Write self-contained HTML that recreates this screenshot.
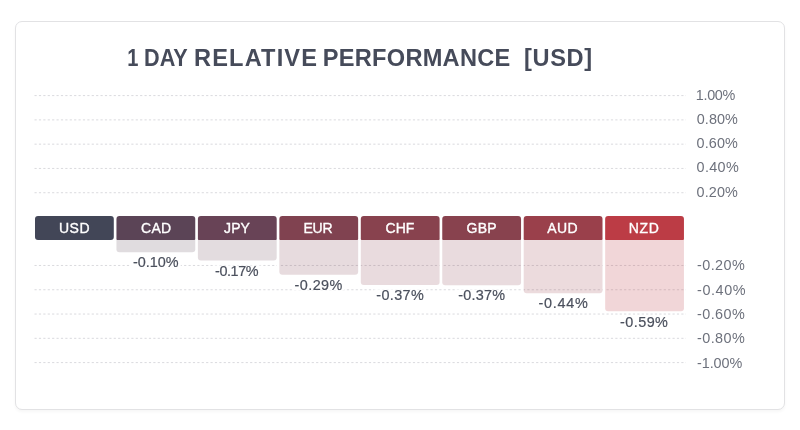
<!DOCTYPE html>
<html><head><meta charset="utf-8"><title>1 Day Relative Performance [USD]</title>
<style>
html,body{margin:0;padding:0;background:#fff;}
body{width:800px;height:430px;overflow:hidden;position:relative;font-family:"Liberation Sans",sans-serif;}
.card{position:absolute;left:15px;top:21px;width:768px;height:387px;border:1px solid #e2e2e4;border-radius:7px;box-shadow:0 2px 3px rgba(0,0,0,0.035);background:#fff;box-sizing:content-box;}
svg{position:absolute;left:0;top:0;}
.title{font-weight:bold;font-size:23.6px;fill:#464b5a;}
.ax{font-size:14.4px;fill:#6d717c;}
.val{font-size:14.4px;fill:#4b505d;stroke:#4b505d;stroke-width:0.2px;}
.lab{font-size:14px;fill:#fff;stroke:#fff;stroke-width:0.35px;}
</style></head><body>
<div class="card"></div>
<svg width="800" height="430" viewBox="0 0 800 430">
<text class="title" x="127.18" y="65.9" textLength="11.15" lengthAdjust="spacingAndGlyphs">1</text>
<text class="title" x="144.08" y="65.9" textLength="43.68" lengthAdjust="spacingAndGlyphs">DAY</text>
<text class="title" x="194.00" y="65.9" style="letter-spacing:1.15px">RELATIVE</text>
<text class="title" x="322.75" y="65.9" style="letter-spacing:0.27px">PERFORMANCE</text>
<text class="title" x="524.00" y="65.9" style="letter-spacing:0.64px">[USD]</text>
<g stroke="#dadade" stroke-width="1" stroke-dasharray="2.2 2.2" fill="none">
<line x1="34.5" x2="686" y1="95.60" y2="95.60"/>
<line x1="34.5" x2="686" y1="119.88" y2="119.88"/>
<line x1="34.5" x2="686" y1="144.16" y2="144.16"/>
<line x1="34.5" x2="686" y1="168.44" y2="168.44"/>
<line x1="34.5" x2="686" y1="192.72" y2="192.72"/>
<line x1="34.5" x2="686" y1="265.48" y2="265.48"/>
<line x1="34.5" x2="686" y1="289.76" y2="289.76"/>
<line x1="34.5" x2="686" y1="314.04" y2="314.04"/>
<line x1="34.5" x2="686" y1="338.32" y2="338.32"/>
<line x1="34.5" x2="686" y1="362.60" y2="362.60"/>
</g>
<text class="ax" x="695.75" y="99.60" style="letter-spacing:-0.31px">1.00%</text>
<text class="ax" x="696.75" y="123.88" style="letter-spacing:0.09px">0.80%</text>
<text class="ax" x="696.60" y="148.16" style="letter-spacing:0.10px">0.60%</text>
<text class="ax" x="696.60" y="172.44" style="letter-spacing:0.32px">0.40%</text>
<text class="ax" x="696.60" y="196.72" style="letter-spacing:0.10px">0.20%</text>
<text class="ax" x="697.00" y="270.38" style="letter-spacing:0.42px">-0.20%</text>
<text class="ax" x="697.00" y="294.66" style="letter-spacing:0.60px">-0.40%</text>
<text class="ax" x="697.00" y="318.94" style="letter-spacing:0.44px">-0.60%</text>
<text class="ax" x="697.00" y="343.22" style="letter-spacing:0.44px">-0.80%</text>
<text class="ax" x="697.00" y="367.50" style="letter-spacing:-0.08px">-1.00%</text>
<rect x="113.80" y="240.10" width="2.65" height="12.95" fill="#fff"/>
<rect x="195.25" y="240.10" width="2.65" height="21.30" fill="#fff"/>
<rect x="276.70" y="240.10" width="2.65" height="35.45" fill="#fff"/>
<rect x="358.15" y="240.10" width="2.65" height="45.70" fill="#fff"/>
<rect x="439.60" y="240.10" width="2.65" height="45.95" fill="#fff"/>
<rect x="521.05" y="240.10" width="2.65" height="54.00" fill="#fff"/>
<rect x="602.50" y="240.10" width="2.65" height="71.95" fill="#fff"/>
<rect x="683.95" y="240.10" width="1.3" height="71.95" fill="#fff"/>
<rect x="35.00" y="216.10" width="78.80" height="24.00" rx="3" ry="3" fill="#424657"/>
<text class="lab" x="59.00" y="233.20" style="letter-spacing:0.48px">USD</text>
<path d="M116.45 238.60 H195.25 V249.25 Q195.25 252.25 192.25 252.25 H119.45 Q116.45 252.25 116.45 249.25 Z" fill="#5b4456" fill-opacity="0.19"/>
<rect x="131.10" y="256.50" width="49.65" height="10.4" fill="#fff"/>
<text class="val" x="133.10" y="266.90" style="letter-spacing:-0.03px">-0.10%</text>
<path d="M116.45 219.10 Q116.45 216.10 119.45 216.10 H192.25 Q195.25 216.10 195.25 219.10 V239.10 Q195.25 240.10 194.25 240.10 H117.45 Q116.45 240.10 116.45 239.10 Z" fill="#5b4456"/>
<text class="lab" x="141.00" y="233.20" style="letter-spacing:0.28px">CAD</text>
<path d="M197.90 238.60 H276.70 V257.60 Q276.70 260.60 273.70 260.60 H200.90 Q197.90 260.60 197.90 257.60 Z" fill="#684356" fill-opacity="0.19"/>
<rect x="213.00" y="265.50" width="47.75" height="10.4" fill="#fff"/>
<text class="val" x="215.00" y="275.90" style="letter-spacing:-0.41px">-0.17%</text>
<path d="M197.90 219.10 Q197.90 216.10 200.90 216.10 H273.70 Q276.70 216.10 276.70 219.10 V239.10 Q276.70 240.10 275.70 240.10 H198.90 Q197.90 240.10 197.90 239.10 Z" fill="#684356"/>
<text class="lab" x="224.10" y="233.20" style="letter-spacing:0.08px">JPY</text>
<path d="M279.35 238.60 H358.15 V271.75 Q358.15 274.75 355.15 274.75 H282.35 Q279.35 274.75 279.35 271.75 Z" fill="#804250" fill-opacity="0.19"/>
<rect x="292.60" y="279.60" width="51.90" height="10.4" fill="#fff"/>
<text class="val" x="294.60" y="290.00" style="letter-spacing:0.42px">-0.29%</text>
<path d="M279.35 219.10 Q279.35 216.10 282.35 216.10 H355.15 Q358.15 216.10 358.15 219.10 V239.10 Q358.15 240.10 357.15 240.10 H280.35 Q279.35 240.10 279.35 239.10 Z" fill="#804250"/>
<text class="lab" x="303.40" y="233.20" style="letter-spacing:-0.17px">EUR</text>
<path d="M360.80 238.60 H439.60 V282.00 Q439.60 285.00 436.60 285.00 H363.80 Q360.80 285.00 360.80 282.00 Z" fill="#88424e" fill-opacity="0.19"/>
<rect x="374.25" y="289.30" width="51.75" height="10.4" fill="#fff"/>
<text class="val" x="376.25" y="299.70" style="letter-spacing:0.39px">-0.37%</text>
<path d="M360.80 219.10 Q360.80 216.10 363.80 216.10 H436.60 Q439.60 216.10 439.60 219.10 V239.10 Q439.60 240.10 438.60 240.10 H361.80 Q360.80 240.10 360.80 239.10 Z" fill="#88424e"/>
<text class="lab" x="385.60" y="233.20" style="letter-spacing:-0.04px">CHF</text>
<path d="M442.25 238.60 H521.05 V282.25 Q521.05 285.25 518.05 285.25 H445.25 Q442.25 285.25 442.25 282.25 Z" fill="#88424e" fill-opacity="0.19"/>
<rect x="456.20" y="289.50" width="51.00" height="10.4" fill="#fff"/>
<text class="val" x="458.20" y="299.90" style="letter-spacing:0.24px">-0.37%</text>
<path d="M442.25 219.10 Q442.25 216.10 445.25 216.10 H518.05 Q521.05 216.10 521.05 219.10 V239.10 Q521.05 240.10 520.05 240.10 H443.25 Q442.25 240.10 442.25 239.10 Z" fill="#88424e"/>
<text class="lab" x="466.60" y="233.20" style="letter-spacing:0.21px">GBP</text>
<path d="M523.70 238.60 H602.50 V290.30 Q602.50 293.30 599.50 293.30 H526.70 Q523.70 293.30 523.70 290.30 Z" fill="#9a404b" fill-opacity="0.19"/>
<rect x="536.50" y="297.80" width="53.50" height="10.4" fill="#fff"/>
<text class="val" x="538.50" y="308.20" style="letter-spacing:0.74px">-0.44%</text>
<path d="M523.70 219.10 Q523.70 216.10 526.70 216.10 H599.50 Q602.50 216.10 602.50 219.10 V239.10 Q602.50 240.10 601.50 240.10 H524.70 Q523.70 240.10 523.70 239.10 Z" fill="#9a404b"/>
<text class="lab" x="547.20" y="233.20" style="letter-spacing:0.43px">AUD</text>
<path d="M605.15 238.60 H683.95 V308.25 Q683.95 311.25 680.95 311.25 H608.15 Q605.15 311.25 605.15 308.25 Z" fill="#bc3c45" fill-opacity="0.21"/>
<rect x="618.00" y="316.85" width="52.10" height="10.4" fill="#fff"/>
<text class="val" x="620.00" y="327.25" style="letter-spacing:0.46px">-0.59%</text>
<path d="M605.15 219.10 Q605.15 216.10 608.15 216.10 H680.95 Q683.95 216.10 683.95 219.10 V239.10 Q683.95 240.10 682.95 240.10 H606.15 Q605.15 240.10 605.15 239.10 Z" fill="#bc3c45"/>
<text class="lab" x="628.70" y="233.20" style="letter-spacing:0.69px">NZD</text>
</svg>
</body></html>
